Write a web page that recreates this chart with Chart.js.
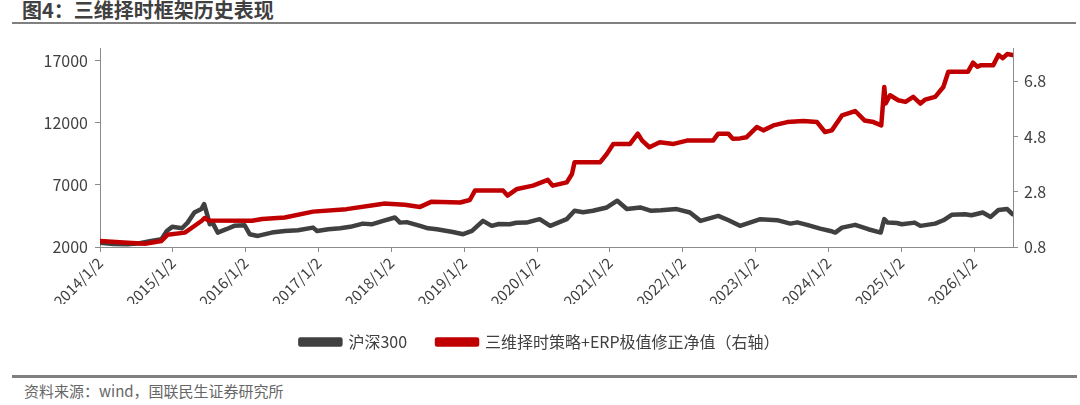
<!DOCTYPE html>
<html>
<head>
<meta charset="utf-8">
<script src="https://cdn.jsdelivr.net/npm/chart.js@4.4.0/dist/chart.umd.min.js"></script>
<style>
  html, body { margin: 0; padding: 0; background: #fff; }
  body { width: 1080px; height: 405px; position: relative; overflow: hidden; font-family: "Noto Sans CJK SC", sans-serif; }
  #title { position: absolute; left: 22px; top: -2px; font-size: 20px; font-weight: bold; color: #404040; line-height: 24px; white-space: nowrap; }
  #topline { position: absolute; left: 12px; right: 4px; top: 22px; height: 2px; background: #808080; }
  #wrap { position: absolute; left: 0; top: 25px; width: 1080px; height: 345px; }
  #botline { position: absolute; left: 12px; right: 3px; top: 375px; height: 3px; background: #808080; }
  #source { position: absolute; left: 24px; top: 381px; font-size: 15px; color: #666666; line-height: 20px; white-space: nowrap; }
</style>
</head>
<body>
<div id="title">图4：三维择时框架历史表现</div>
<div id="topline"></div>
<div id="wrap"><canvas id="chart"></canvas></div>
<div id="botline"></div>
<div id="source">资料来源：wind，国联民生证券研究所</div>
<script>
// 沪深300 (left axis)
var hsDates = ['2014-01-02','2014-03-10','2014-05-20','2014-07-20','2014-09-15','2014-11-06','2014-12-03','2014-12-30',
  '2015-02-17','2015-03-17','2015-04-20','2015-05-25','2015-06-08','2015-06-25','2015-07-06','2015-07-20','2015-08-15',
  '2015-09-27','2015-11-06','2015-12-28','2016-01-22','2016-03-03','2016-05-12','2016-07-16','2016-09-20','2016-12-05',
  '2016-12-25','2017-02-20','2017-04-20','2017-06-10','2017-08-12','2017-09-25','2017-11-22','2018-01-20','2018-02-14',
  '2018-03-20','2018-05-26','2018-07-05','2018-08-18','2018-11-06','2018-12-28','2019-02-10','2019-04-06','2019-05-20',
  '2019-06-25','2019-08-18','2019-09-20','2019-11-10','2020-01-15','2020-03-08','2020-05-30','2020-07-08','2020-08-20',
  '2020-10-08','2020-12-17','2021-02-08','2021-03-28','2021-06-03','2021-07-28','2021-09-15','2021-12-03','2022-02-07',
  '2022-04-01','2022-06-29','2022-08-20','2022-10-16','2023-01-26','2023-04-20','2023-06-25','2023-07-30','2023-09-17',
  '2023-11-22','2024-01-12','2024-02-05','2024-03-10','2024-05-15','2024-07-20','2024-09-20','2024-10-08','2024-10-25',
  '2024-12-10','2025-01-05','2025-03-10','2025-04-08','2025-06-21','2025-08-01','2025-09-12','2025-11-18','2025-12-20',
  '2026-02-14','2026-03-26','2026-05-04','2026-06-17','2026-07-13'];
var hsValues = [2350,2250,2220,2300,2480,2620,3290,3620,
  3510,3960,4770,5050,5450,4500,3830,3960,3160,
  3430,3700,3750,3030,2890,3160,3290,3350,3560,
  3290,3420,3510,3620,3880,3820,4100,4370,3960,
  4000,3700,3500,3430,3210,3030,3290,4100,3700,
  3850,3830,3950,3960,4240,3700,4240,4910,4800,
  4910,5180,5720,5050,5180,4910,4950,5050,4770,
  4100,4500,4150,3700,4240,4160,3880,3980,3780,
  3480,3290,3160,3560,3780,3430,3160,4240,3960,
  3930,3830,3960,3700,3880,4150,4590,4640,4550,
  4770,4420,4970,5050,4640];

// 三维择时策略+ERP极值修正净值 (right axis)
var stratDates = ['2014-01-02','2014-05-01','2014-08-15','2014-11-06','2014-12-06','2015-03-03','2015-04-20','2015-05-27',
  '2015-06-10','2015-07-01','2016-02-03','2016-03-25','2016-07-16','2016-12-05','2017-05-22','2017-11-06','2017-11-25',
  '2018-03-10','2018-05-26','2018-07-23','2018-12-13','2019-01-30','2019-02-25','2019-07-16','2019-08-07','2019-09-24',
  '2019-12-13','2020-02-25','2020-03-20','2020-05-30','2020-06-25','2020-07-08','2020-11-14','2020-12-17','2021-01-19',
  '2021-04-13','2021-05-22','2021-06-13','2021-07-19','2021-09-09','2021-11-17','2022-01-23','2022-06-03','2022-06-29',
  '2022-08-19','2022-09-09','2022-10-16','2022-11-17','2023-01-08','2023-02-10','2023-04-01','2023-06-10','2023-08-29',
  '2023-11-06','2023-12-16','2024-01-19','2024-03-10','2024-05-15','2024-07-01','2024-08-15','2024-09-23','2024-10-08',
  '2024-10-15','2024-11-06','2024-12-17','2025-01-23','2025-03-03','2025-04-08','2025-05-01','2025-06-21','2025-08-01',
  '2025-08-26','2025-12-02','2025-12-28','2026-01-19','2026-02-06','2026-04-08','2026-05-04','2026-05-26','2026-06-17',
  '2026-07-13'];
var stratValues = [1.02,0.96,0.92,1.02,1.24,1.32,1.56,1.75,
  1.85,1.76,1.75,1.81,1.87,2.08,2.17,2.35,2.37,
  2.33,2.25,2.44,2.41,2.50,2.84,2.84,2.66,2.90,
  3.02,3.23,3.02,3.14,3.44,3.87,3.87,4.17,4.53,
  4.53,4.90,4.65,4.41,4.59,4.53,4.65,4.65,4.90,
  4.90,4.72,4.73,4.77,5.14,5.02,5.20,5.32,5.36,
  5.32,4.96,5.02,5.56,5.72,5.38,5.32,5.20,6.59,
  5.99,6.29,6.11,6.05,6.23,5.99,6.13,6.23,6.59,
  7.14,7.14,7.47,7.32,7.38,7.38,7.75,7.63,7.78,
  7.75];

var xTickLabels = ['2014/1/2','2015/1/2','2016/1/2','2017/1/2','2018/1/2','2019/1/2','2020/1/2',
  '2021/1/2','2022/1/2','2023/1/2','2024/1/2','2025/1/2','2026/1/2'];
var leftTicks = [2000, 7000, 12000, 17000];
var rightTicks = [0.8, 2.8, 4.8, 6.8];

// date string -> fractional year
function toYear(s) {
  var p = s.split(/[-\/]/).map(Number);
  var start = Date.UTC(p[0], 0, 1);
  var d = Date.UTC(p[0], p[1] - 1, p[2]);
  return p[0] + (d - start) / (365.25 * 86400000);
}

function points(dates, values) {
  return dates.map(function (d, i) { return { x: toYear(d), y: values[i] }; });
}

var FONT = '"Noto Sans CJK SC", "Noto Sans", sans-serif';
var AXIS = '#8c8c8c';
var TEXT = '#404040';

var ctx = document.getElementById('chart').getContext('2d');

var myChart = new Chart(ctx, {
  type: 'line',
  data: {
    datasets: [{
      label: '三维择时策略+ERP极值修正净值（右轴）',
      data: points(stratDates, stratValues),
      yAxisID: 'y1',
      borderColor: '#C00000',
      backgroundColor: '#C00000',
      borderWidth: 4.5,
      pointRadius: 0,
      borderJoinStyle: 'round',
      borderCapStyle: 'round'
    }, {
      label: '沪深300',
      data: points(hsDates, hsValues),
      yAxisID: 'y',
      borderColor: '#404040',
      backgroundColor: '#404040',
      borderWidth: 4.5,
      pointRadius: 0,
      borderJoinStyle: 'round',
      borderCapStyle: 'round'
    }]
  },
  options: {
    responsive: true,
    maintainAspectRatio: false,
    animation: false,
    layout: { padding: { top: 23, left: 0, right: 0, bottom: 10 } },
    plugins: {
      tooltip: { enabled: false },
      legend: {
        position: 'bottom',
        reverse: true,
        labels: {
          boxWidth: 40,
          boxHeight: 5,
          padding: 30,
          color: TEXT,
          font: { family: FONT, size: 16 }
        }
      }
    },
    scales: {
      x: {
        type: 'linear',
        min: toYear(xTickLabels[0]),
        max: toYear('2026-07-16'),
        afterBuildTicks: function (scale) {
          scale.ticks = xTickLabels.map(function (t) { return { value: toYear(t) }; });
        },
        afterFit: function (scale) { scale.height = 57; },
        ticks: {
          minRotation: 45,
          maxRotation: 45,
          autoSkip: false,
          padding: 2,
          color: TEXT,
          font: { family: FONT, size: 15 },
          callback: function (v, i) { return xTickLabels[i]; }
        },
        grid: { drawOnChartArea: false, drawTicks: true, tickLength: 5, color: AXIS },
        border: { color: AXIS, width: 1 }
      },
      y: {
        position: 'left',
        min: 2000,
        max: 18000,
        afterBuildTicks: function (scale) {
          scale.ticks = leftTicks.map(function (v) { return { value: v }; });
        },
        afterFit: function (scale) { scale.width = 100; },
        ticks: {
          color: TEXT,
          font: { family: FONT, size: 16 },
          padding: 7,
          callback: function (v) { return String(v); }
        },
        grid: { drawOnChartArea: false, drawTicks: true, tickLength: 5, color: AXIS },
        border: { color: AXIS, width: 1 }
      },
      y1: {
        position: 'right',
        min: 0.8,
        max: 8.0,
        afterBuildTicks: function (scale) {
          scale.ticks = rightTicks.map(function (v) { return { value: v }; });
        },
        afterFit: function (scale) { scale.width = 67; },
        ticks: {
          color: TEXT,
          font: { family: FONT, size: 16 },
          padding: 6,
          callback: function (v) { return v.toFixed(1); }
        },
        grid: { drawOnChartArea: false, drawTicks: true, tickLength: 5, color: AXIS },
        border: { color: AXIS, width: 1 }
      }
    }
  }
});
</script>
</body>
</html>
